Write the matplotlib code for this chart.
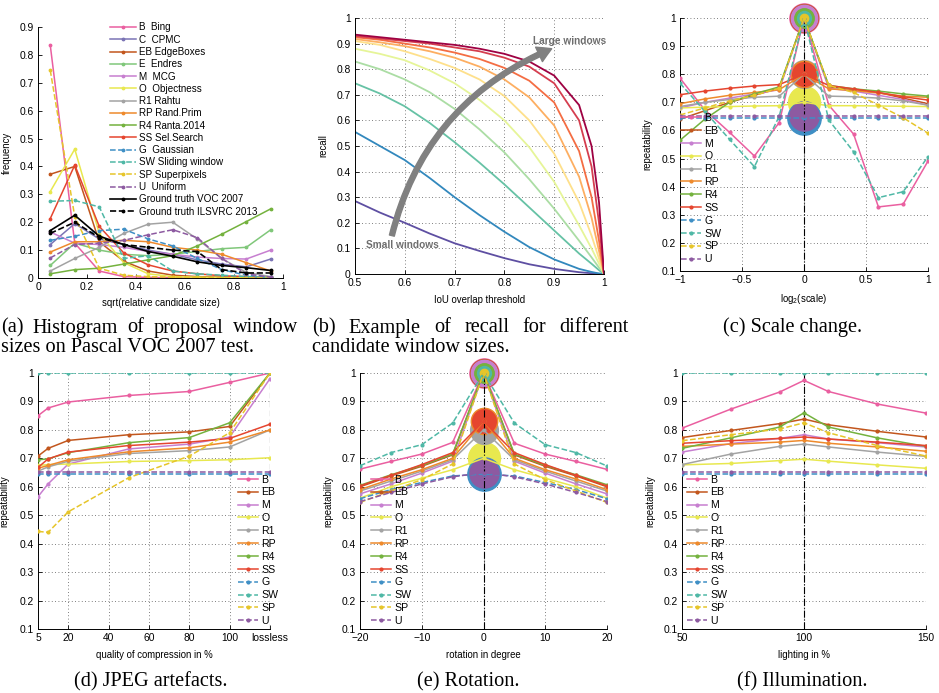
import numpy as np
import matplotlib
matplotlib.use('Agg')
import matplotlib.pyplot as plt
from matplotlib.patches import FancyArrowPatch
from matplotlib.ticker import FuncFormatter

plt.rcParams['font.family'] = ['Liberation Sans', 'DejaVu Sans']
plt.rcParams['axes.unicode_minus'] = True

# ---------------- data ----------------
# (a) histogram of proposal window sizes
size_bins = [0.05, 0.15, 0.25, 0.35, 0.45, 0.55, 0.65, 0.75, 0.85, 0.95]
hist_names = ['B  Bing', 'C  CPMC', 'EB EdgeBoxes', 'E  Endres', 'M  MCG', 'O  Objectness',
              'R1 Rahtu', 'RP Rand.Prim', 'R4 Ranta.2014', 'SS Sel.Search', 'G  Gaussian',
              'SW Sliding window', 'SP Superpixels', 'U  Uniform',
              'Ground truth VOC 2007', 'Ground truth ILSVRC 2013']
hist_B = [0.835, 0.125, 0.025, 0.005, 0.002, 0.001, 0.0, 0.0, 0.0, 0.0]
hist_C = [0.12, 0.195, 0.14, 0.12, 0.10, 0.085, 0.065, 0.05, 0.04, 0.068]
hist_EB = [0.372, 0.40, 0.13, 0.06, 0.025, 0.01, 0.005, 0.003, 0.002, 0.001]
hist_E = [0.045, 0.125, 0.10, 0.085, 0.08, 0.085, 0.095, 0.105, 0.11, 0.173]
hist_M = [0.165, 0.125, 0.12, 0.11, 0.095, 0.085, 0.075, 0.07, 0.068, 0.10]
hist_O = [0.31, 0.462, 0.16, 0.055, 0.015, 0.005, 0.003, 0.002, 0.001, 0.0]
hist_R1 = [0.025, 0.07, 0.11, 0.16, 0.193, 0.20, 0.14, 0.07, 0.02, 0.005]
hist_RP = [0.093, 0.13, 0.13, 0.135, 0.13, 0.11, 0.10, 0.085, 0.055, 0.025]
hist_R4 = [0.015, 0.03, 0.035, 0.05, 0.065, 0.08, 0.115, 0.157, 0.202, 0.248]
hist_SS = [0.213, 0.405, 0.185, 0.09, 0.047, 0.025, 0.015, 0.008, 0.005, 0.002]
hist_G = [0.135, 0.15, 0.17, 0.175, 0.14, 0.115, 0.07, 0.03, 0.01, 0.002]
hist_SW = [0.275, 0.278, 0.255, 0.07, 0.08, 0.025, 0.015, 0.01, 0.005, 0.002]
hist_SP = [0.745, 0.22, 0.035, 0.01, 0.005, 0.003, 0.002, 0.001, 0.0, 0.0]
hist_U = [0.072, 0.12, 0.125, 0.135, 0.155, 0.173, 0.145, 0.07, 0.015, 0.003]
hist_voc = [0.17, 0.225, 0.15, 0.12, 0.095, 0.078, 0.058, 0.045, 0.037, 0.027]
hist_ilsvrc = [0.16, 0.20, 0.145, 0.12, 0.11, 0.10, 0.095, 0.03, 0.018, 0.018]

# (b) recall vs IoU for window size groups (small -> large)
iou = [0.5, 0.55, 0.6, 0.65, 0.7, 0.75, 0.8, 0.85, 0.9, 0.95, 0.975, 0.99, 1.0]
recall_1 = [0.285, 0.24, 0.2, 0.158, 0.12, 0.09, 0.062, 0.038, 0.02, 0.007, 0.003, 0.001, 0.0]
recall_2 = [0.555, 0.5, 0.445, 0.375, 0.3, 0.23, 0.165, 0.105, 0.057, 0.02, 0.008, 0.002, 0.0]
recall_3 = [0.745, 0.705, 0.655, 0.59, 0.515, 0.435, 0.35, 0.26, 0.17, 0.08, 0.04, 0.015, 0.0]
recall_4 = [0.83, 0.8, 0.76, 0.71, 0.645, 0.565, 0.475, 0.37, 0.255, 0.13, 0.065, 0.025, 0.0]
recall_5 = [0.88, 0.86, 0.835, 0.795, 0.745, 0.68, 0.6, 0.495, 0.36, 0.19, 0.1, 0.04, 0.0]
recall_6 = [0.91, 0.895, 0.87, 0.84, 0.805, 0.76, 0.695, 0.6, 0.47, 0.28, 0.15, 0.06, 0.0]
recall_7 = [0.918, 0.905, 0.89, 0.87, 0.845, 0.81, 0.76, 0.69, 0.58, 0.38, 0.22, 0.09, 0.0]
recall_8 = [0.925, 0.915, 0.9, 0.885, 0.865, 0.84, 0.805, 0.755, 0.67, 0.48, 0.3, 0.13, 0.0]
recall_9 = [0.93, 0.92, 0.91, 0.9, 0.885, 0.87, 0.845, 0.81, 0.745, 0.6, 0.42, 0.2, 0.0]
recall_10 = [0.935, 0.925, 0.915, 0.905, 0.895, 0.88, 0.86, 0.83, 0.775, 0.66, 0.5, 0.28, 0.0]

# repeatability methods
rep_names = ['B', 'EB', 'M', 'O', 'R1', 'RP', 'R4', 'SS', 'G', 'SW', 'SP', 'U']

# (c) scale change
log_scale = [-1, -0.8, -0.6, -0.4, -0.2, 0, 0.2, 0.4, 0.6, 0.8, 1]
scale_B = [0.786, 0.673, 0.593, 0.509, 0.628, 1.0, 0.69, 0.587, 0.328, 0.338, 0.491]
scale_EB = [0.64, 0.67, 0.70, 0.725, 0.75, 1.0, 0.755, 0.745, 0.735, 0.715, 0.695]
scale_M = [0.68, 0.70, 0.715, 0.73, 0.745, 1.0, 0.75, 0.74, 0.725, 0.71, 0.69]
scale_O = [0.68, 0.683, 0.685, 0.687, 0.688, 0.70, 0.688, 0.688, 0.687, 0.686, 0.685]
scale_R1 = [0.685, 0.70, 0.71, 0.718, 0.722, 0.80, 0.722, 0.72, 0.715, 0.705, 0.69]
scale_RP = [0.695, 0.712, 0.725, 0.735, 0.745, 0.80, 0.748, 0.742, 0.733, 0.722, 0.718]
scale_R4 = [0.565, 0.64, 0.70, 0.73, 0.755, 1.0, 0.76, 0.748, 0.74, 0.73, 0.722]
scale_SS = [0.727, 0.74, 0.75, 0.758, 0.763, 0.80, 0.76, 0.748, 0.735, 0.72, 0.708]
scale_G = [0.645, 0.645, 0.645, 0.645, 0.645, 0.645, 0.645, 0.645, 0.645, 0.645, 0.645]
scale_SW = [0.768, 0.668, 0.568, 0.471, 0.65, 1.0, 0.637, 0.524, 0.361, 0.382, 0.507]
scale_SP = [0.655, 0.68, 0.705, 0.725, 0.75, 1.0, 0.76, 0.735, 0.69, 0.645, 0.59]
scale_U = [0.652, 0.652, 0.652, 0.652, 0.652, 0.652, 0.652, 0.652, 0.652, 0.652, 0.652]

# (d) JPEG artefacts (120 = lossless)
jpeg_quality = [5, 10, 20, 50, 80, 100, 120]
jpeg_B = [0.850, 0.877, 0.898, 0.921, 0.935, 0.967, 1.0]
jpeg_EB = [0.708, 0.735, 0.763, 0.783, 0.793, 0.812, 1.0]
jpeg_M = [0.565, 0.610, 0.680, 0.733, 0.750, 0.775, 0.980]
jpeg_O = [0.675, 0.678, 0.680, 0.689, 0.692, 0.695, 0.702]
jpeg_R1 = [0.655, 0.670, 0.690, 0.717, 0.727, 0.740, 0.800]
jpeg_RP = [0.665, 0.675, 0.695, 0.723, 0.737, 0.757, 0.800]
jpeg_R4 = [0.695, 0.698, 0.720, 0.755, 0.773, 0.825, 1.0]
jpeg_SS = [0.668, 0.698, 0.722, 0.745, 0.757, 0.770, 0.820]
jpeg_G = [0.645, 0.645, 0.645, 0.645, 0.645, 0.645, 0.645]
jpeg_SW = [1.0, 1.0, 1.0, 1.0, 1.0, 1.0, 1.0]
jpeg_SP = [0.443, 0.440, 0.512, 0.632, 0.708, 0.790, 1.0]
jpeg_U = [0.652, 0.652, 0.652, 0.652, 0.652, 0.652, 0.652]

# (e) rotation
rotation = [-20, -15, -10, -5, 0, 5, 10, 15, 20]
rot_B = [0.662, 0.689, 0.715, 0.756, 1.0, 0.753, 0.715, 0.689, 0.661]
rot_EB = [0.600, 0.638, 0.672, 0.712, 1.0, 0.712, 0.672, 0.638, 0.600]
rot_M = [0.575, 0.610, 0.648, 0.690, 1.0, 0.690, 0.648, 0.610, 0.575]
rot_O = [0.560, 0.600, 0.630, 0.660, 0.700, 0.660, 0.630, 0.600, 0.560]
rot_R1 = [0.585, 0.620, 0.655, 0.695, 0.800, 0.695, 0.655, 0.620, 0.585]
rot_RP = [0.590, 0.627, 0.660, 0.700, 0.830, 0.700, 0.660, 0.627, 0.590]
rot_R4 = [0.605, 0.642, 0.675, 0.715, 1.0, 0.715, 0.675, 0.642, 0.607]
rot_SS = [0.603, 0.640, 0.678, 0.720, 0.830, 0.720, 0.678, 0.640, 0.603]
rot_G = [0.558, 0.590, 0.615, 0.638, 0.645, 0.638, 0.615, 0.590, 0.558]
rot_SW = [0.674, 0.720, 0.748, 0.824, 1.0, 0.824, 0.748, 0.720, 0.673]
rot_SP = [0.545, 0.585, 0.625, 0.680, 1.0, 0.680, 0.625, 0.585, 0.545]
rot_U = [0.548, 0.580, 0.610, 0.635, 0.650, 0.635, 0.610, 0.580, 0.548]

# (f) illumination
lighting = [50, 70, 90, 100, 110, 130, 150]
light_B = [0.806, 0.873, 0.933, 0.974, 0.935, 0.891, 0.859]
light_EB = [0.773, 0.798, 0.822, 0.838, 0.818, 0.795, 0.775]
light_M = [0.722, 0.752, 0.770, 0.783, 0.768, 0.755, 0.740]
light_O = [0.677, 0.682, 0.692, 0.697, 0.690, 0.677, 0.665]
light_R1 = [0.678, 0.715, 0.742, 0.750, 0.740, 0.722, 0.707]
light_RP = [0.742, 0.750, 0.757, 0.763, 0.753, 0.740, 0.725]
light_R4 = [0.735, 0.772, 0.810, 0.860, 0.810, 0.772, 0.742]
light_SS = [0.753, 0.762, 0.770, 0.775, 0.768, 0.757, 0.745]
light_G = [0.645, 0.645, 0.645, 0.645, 0.645, 0.645, 0.645]
light_SW = [1.0, 1.0, 1.0, 1.0, 1.0, 1.0, 1.0]
light_SP = [0.762, 0.783, 0.803, 0.825, 0.790, 0.745, 0.708]
light_U = [0.652, 0.652, 0.652, 0.652, 0.652, 0.652, 0.652]

# ---------------- styles ----------------
colors = {'B': '#ea5fa0', 'C': '#7b74b5', 'EB': '#c2561d', 'E': '#80c77a', 'M': '#c77fd0',
          'O': '#e8e84f', 'R1': '#a3a3a3', 'RP': '#ee8a2c', 'R4': '#74b23e', 'SS': '#e5452f',
          'G': '#3f8fc5', 'SW': '#4fb8a6', 'SP': '#e6c52a', 'U': '#8d5aa1'}
dashed = {'G', 'SW', 'SP', 'U'}
# diameter (points) of the reference-point circles
circle_size = {'B': 21, 'EB': 20, 'M': 19, 'O': 23, 'R1': 20, 'RP': 19, 'R4': 14,
               'SS': 17, 'G': 24, 'SW': 10, 'SP': 6, 'U': 21}
spectral = ['#5e4fa2', '#3288bd', '#66c2a5', '#abdda4', '#e6f598',
            '#fee08b', '#fdae61', '#f46d43', '#d53e4f', '#9e0142']

W, H = 939, 693
fig = plt.figure(figsize=(W / 100, H / 100), dpi=100)

TICK_FS = 7.4
LABEL_FS = 6.9


def make_axes(left, right, top, bottom):
    return fig.add_axes([left / W, 1 - bottom / H, (right - left) / W, (bottom - top) / H])


def style_axes(ax, grid=True):
    for s in ['top', 'right']:
        ax.spines[s].set_visible(False)
    for s in ['left', 'bottom']:
        ax.spines[s].set_linewidth(0.7)
    ax.tick_params(direction='in', length=3, width=0.6, labelsize=TICK_FS, pad=3)
    if grid:
        ax.grid(True, linestyle=(0, (1, 3)), color='#555555', linewidth=0.6)
        ax.set_axisbelow(True)


def place_labels(ax, box, xlab_y, ylab_x):
    left, right, top, bottom = box
    ax.xaxis.set_label_coords(0.5, (bottom - xlab_y) / (bottom - top))
    ax.yaxis.set_label_coords((ylab_x - left) / (right - left), 0.5)


fmt = FuncFormatter(lambda v, p: ('%g' % round(v, 3)).replace('-', '\u2212'))

# ---------------- (a) ----------------
box_a = (38, 283, 27, 278)
ax = make_axes(*box_a)
style_axes(ax, grid=False)
hist_series = [hist_B, hist_C, hist_EB, hist_E, hist_M, hist_O, hist_R1, hist_RP, hist_R4,
               hist_SS, hist_G, hist_SW, hist_SP, hist_U]
hist_keys = ['B', 'C', 'EB', 'E', 'M', 'O', 'R1', 'RP', 'R4', 'SS', 'G', 'SW', 'SP', 'U']
for key, vals, name in zip(hist_keys, hist_series, hist_names):
    ax.plot(size_bins, vals, color=colors[key], lw=1.1, marker='.', ms=3.5,
            ls='--' if key in dashed else '-', label=name)
ax.plot(size_bins, hist_voc, color='black', lw=1.2, marker='.', ms=3.5, label=hist_names[14])
ax.plot(size_bins, hist_ilsvrc, color='black', lw=1.2, marker='.', ms=3.5, ls='--',
        label=hist_names[15])
ax.set_xlim(0, 1)
ax.set_ylim(0, 0.9)
ax.set_xticks(np.arange(0, 1.01, 0.2))
ax.set_yticks(np.arange(0, 0.91, 0.1))
ax.xaxis.set_major_formatter(fmt)
ax.yaxis.set_major_formatter(fmt)
ax.set_xlabel('sqrt(relative candidate size)', fontsize=LABEL_FS)
ax.set_ylabel('frequency', fontsize=LABEL_FS)
place_labels(ax, box_a, 298, 12)
ax.legend(loc='upper left', bbox_to_anchor=(0.294, 1.018), frameon=False, fontsize=7.1,
          handlelength=2.6, handletextpad=0.3, labelspacing=0.23, borderpad=0,
          borderaxespad=0)

# ---------------- (b) ----------------
box_b = (355, 604, 18, 274)
ax = make_axes(*box_b)
style_axes(ax)
recalls = [recall_1, recall_2, recall_3, recall_4, recall_5, recall_6, recall_7, recall_8,
           recall_9, recall_10]
for c, vals in zip(spectral, recalls):
    ax.plot(iou, vals, color=c, lw=1.3)
ax.set_xlim(0.5, 1)
ax.set_ylim(0, 1)
ax.set_xticks(np.arange(0.5, 1.01, 0.1))
ax.set_yticks(np.arange(0, 1.01, 0.1))
ax.xaxis.set_major_formatter(fmt)
ax.yaxis.set_major_formatter(fmt)
ax.set_xlabel('IoU overlap threshold', fontsize=LABEL_FS)
ax.set_ylabel('recall', fontsize=LABEL_FS)
place_labels(ax, box_b, 295, 328)
arrow = FancyArrowPatch((0.574, 0.15), (0.895, 0.88), connectionstyle='arc3,rad=-0.25',
                        arrowstyle='simple,head_width=1.15,head_length=1.0,tail_width=0.36',
                        mutation_scale=10, color='#808080', shrinkA=0, shrinkB=0, zorder=5)
ax.add_patch(arrow)
ax.text(0.523, 0.113, 'Small windows', fontsize=7.3, fontweight='bold', color='#6e6e6e',
        va='center', ha='left', zorder=6)
ax.text(1.004, 0.91, 'Large windows', fontsize=7.3, fontweight='bold', color='#6e6e6e',
        va='center', ha='right', zorder=6)


# ---------------- repeatability panels ----------------
def rep_panel(box, xs, series, center=None, xlim=None, xticks=None, xticklabels=None,
              vline=None, vstyle='-.', xlabel='', ylab_x=0, xlab_y=0, leg_anchor=(0, 1),
              leg_loc='upper left'):
    ax = make_axes(*box)
    style_axes(ax)
    if center is not None:
        for key in rep_names:
            vals = series[key]
            ax.plot([center], [vals[xs.index(center)]], 'o', ms=circle_size[key],
                    color=colors[key], mec=colors[key], clip_on=False, zorder=2)
    if vline is not None:
        ax.plot([vline, vline], [0.1, 1.0], color='black', lw=0.8, ls=vstyle, zorder=2.5)
    for key in rep_names:
        ax.plot(xs, series[key], color=colors[key], lw=1.1, marker='.', ms=4,
                ls='--' if key in dashed else '-', label=key, zorder=3)
    ax.set_xlim(*xlim)
    ax.set_ylim(0.1, 1)
    ax.set_xticks(xticks)
    if xticklabels is not None:
        ax.set_xticklabels(xticklabels)
    else:
        ax.xaxis.set_major_formatter(fmt)
    ax.set_yticks(np.arange(0.1, 1.01, 0.1))
    ax.yaxis.set_major_formatter(fmt)
    ax.set_xlabel(xlabel, fontsize=LABEL_FS)
    ax.set_ylabel('repeatability', fontsize=LABEL_FS)
    place_labels(ax, box, xlab_y, ylab_x)
    ax.legend(loc=leg_loc, bbox_to_anchor=leg_anchor, frameon=False, fontsize=7.6,
              handlelength=1.9, handletextpad=0.3, labelspacing=0.27, borderpad=0,
              borderaxespad=0)
    return ax


scale_series = {'B': scale_B, 'EB': scale_EB, 'M': scale_M, 'O': scale_O, 'R1': scale_R1,
                'RP': scale_RP, 'R4': scale_R4, 'SS': scale_SS, 'G': scale_G, 'SW': scale_SW,
                'SP': scale_SP, 'U': scale_U}
rep_panel((680, 928, 18, 271), log_scale, scale_series, center=0, xlim=(-1, 1),
          xticks=[-1, -0.5, 0, 0.5, 1], vline=0, xlabel=r'$\mathregular{log_2}$(scale)',
          ylab_x=652, xlab_y=292, leg_anchor=(0.005, 0.625))

jpeg_series = {'B': jpeg_B, 'EB': jpeg_EB, 'M': jpeg_M, 'O': jpeg_O, 'R1': jpeg_R1,
               'RP': jpeg_RP, 'R4': jpeg_R4, 'SS': jpeg_SS, 'G': jpeg_G, 'SW': jpeg_SW,
               'SP': jpeg_SP, 'U': jpeg_U}
rep_panel((38, 270, 373, 629), jpeg_quality, jpeg_series, xlim=(5, 120),
          xticks=[5, 20, 40, 60, 80, 100, 120],
          xticklabels=['5', '20', '40', '60', '80', '100', 'lossless'], vline=120,
          vstyle=(0, (5, 3)), xlabel='quality of compression in %', ylab_x=9, xlab_y=650,
          leg_anchor=(1.035, 0.603), leg_loc='upper right')

rot_series = {'B': rot_B, 'EB': rot_EB, 'M': rot_M, 'O': rot_O, 'R1': rot_R1,
              'RP': rot_RP, 'R4': rot_R4, 'SS': rot_SS, 'G': rot_G, 'SW': rot_SW,
              'SP': rot_SP, 'U': rot_U}
rep_panel((360, 607, 373, 629), rotation, rot_series, center=0, xlim=(-20, 20),
          xticks=[-20, -10, 0, 10, 20], vline=0, xlabel='rotation in degree',
          ylab_x=333, xlab_y=650, leg_anchor=(0.045, 0.603))

light_series = {'B': light_B, 'EB': light_EB, 'M': light_M, 'O': light_O, 'R1': light_R1,
                'RP': light_RP, 'R4': light_R4, 'SS': light_SS, 'G': light_G,
                'SW': light_SW, 'SP': light_SP, 'U': light_U}
rep_panel((682, 926, 373, 629), lighting, light_series, xlim=(50, 150),
          xticks=[50, 100, 150], vline=100, xlabel='lighting in %',
          ylab_x=655, xlab_y=650, leg_anchor=(0.02, 0.603))

# ---------------- captions ----------------
cap = dict(fontfamily=['Liberation Serif', 'DejaVu Serif'], fontsize=14.6, va='center')
renderer = fig.canvas.get_renderer()


def justified(text, x0, x1, y):
    # spread the words of a caption line between x0 and x1 (pixels)
    words = text.split(' ')
    items = [fig.text(0, 1 - y / H, w, ha='left', **cap) for w in words]
    widths = [t.get_window_extent(renderer).width for t in items]
    gap = (x1 - x0 - sum(widths)) / (len(words) - 1)
    x = x0
    for t, w in zip(items, widths):
        t.set_x(x / W)
        x += w + gap


justified('(a) Histogram of proposal window', 1, 298, 328)
fig.text(1 / W, 1 - 348 / H, 'sizes on Pascal VOC 2007 test.', ha='left', **cap)
justified('(b) Example of recall for different', 312, 629, 328)
fig.text(312 / W, 1 - 348 / H, 'candidate window sizes.', ha='left', **cap)
fig.text(793 / W, 1 - 327 / H, '(c) Scale change.', ha='center', **cap)
fig.text(151 / W, 1 - 682 / H, '(d) JPEG artefacts.', ha='center', **cap)
fig.text(468 / W, 1 - 682 / H, '(e) Rotation.', ha='center', **cap)
fig.text(802 / W, 1 - 682 / H, '(f) Illumination.', ha='center', **cap)

fig.savefig('out.png', dpi=100)
